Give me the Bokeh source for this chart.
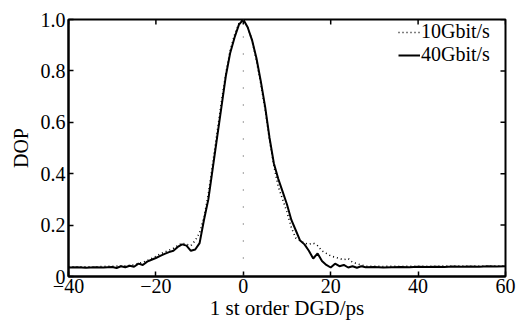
from bokeh.plotting import figure
from bokeh.models import FixedTicker, Legend, LegendItem, Span, Range1d
from bokeh.embed import file_html
from bokeh.resources import INLINE

# ---- data ----
x_40g = [-40, -38, -36, -34, -32, -30, -29, -28, -27, -26, -25, -24, -23, -22, -21,
         -20, -19, -18, -17, -16, -15, -14, -13, -12, -11, -10, -9, -8, -7, -6, -5,
         -4, -3, -2, -1, 0, 1, 2, 3, 4, 5, 6, 7, 8, 9, 10, 11, 12, 13, 14, 15, 16,
         17, 18, 19, 20, 21, 22, 23, 24, 25, 26, 27, 28, 30, 32, 34, 36, 38, 40,
         42, 44, 46, 48, 50, 52, 54, 56, 58, 60]
y_40g = [0.035, 0.036, 0.034, 0.036, 0.035, 0.037, 0.033, 0.040, 0.036, 0.042, 0.038,
         0.050, 0.045, 0.058, 0.065, 0.072, 0.080, 0.088, 0.095, 0.100, 0.115, 0.125,
         0.120, 0.100, 0.105, 0.130, 0.220, 0.300, 0.420, 0.540, 0.660, 0.780, 0.870,
         0.930, 0.980, 1.000, 0.970, 0.920, 0.850, 0.760, 0.660, 0.540, 0.440, 0.380,
         0.330, 0.280, 0.220, 0.180, 0.140, 0.125, 0.100, 0.070, 0.090, 0.060, 0.045,
         0.035, 0.050, 0.040, 0.045, 0.035, 0.040, 0.034, 0.040, 0.036, 0.037, 0.035,
         0.036, 0.037, 0.036, 0.038, 0.037, 0.038, 0.037, 0.039, 0.038, 0.039, 0.038,
         0.040, 0.039, 0.040]

x_10g = [-40, -38, -36, -34, -32, -30, -28, -26, -25, -24, -23, -22, -21, -20, -19,
         -18, -17, -16, -15, -14, -13, -12, -11, -10, -9, -8, -7, -6, -5, -4, -3, -2,
         -1, 0, 1, 2, 3, 4, 5, 6, 7, 8, 9, 10, 11, 12, 13, 14, 15, 16, 17, 18, 19,
         20, 21, 22, 23, 24, 25, 26, 27, 28, 30, 32, 34, 36, 38, 40, 44, 48, 52, 56, 60]
y_10g = [0.038, 0.037, 0.038, 0.037, 0.039, 0.040, 0.041, 0.043, 0.045, 0.050, 0.055,
         0.062, 0.070, 0.078, 0.088, 0.095, 0.102, 0.110, 0.120, 0.130, 0.125, 0.120,
         0.140, 0.170, 0.230, 0.320, 0.440, 0.560, 0.680, 0.790, 0.880, 0.940, 0.985,
         1.000, 0.970, 0.920, 0.840, 0.750, 0.650, 0.530, 0.430, 0.350, 0.300, 0.250,
         0.190, 0.150, 0.140, 0.130, 0.125, 0.130, 0.120, 0.100, 0.090, 0.080, 0.075,
         0.070, 0.065, 0.070, 0.055, 0.050, 0.045, 0.040, 0.040, 0.039, 0.040, 0.039,
         0.040, 0.040, 0.040, 0.041, 0.040, 0.041, 0.041]

x_ticks = [-40, -20, 0, 20, 40, 60]
y_ticks = [0, 0.2, 0.4, 0.6, 0.8, 1.0]
series_names = ["10Gbit/s", "40Gbit/s"]

FONT = "Liberation Serif"
X0, X1, Y0, Y1 = -40, 60, 0, 1.0

p = figure(width=517, height=322, output_backend="svg", toolbar_location=None,
           x_range=Range1d(X0, X1), y_range=Range1d(Y0, Y1),
           min_border_left=68, min_border_right=12, min_border_top=19,
           min_border_bottom=0, background_fill_color="white",
           border_fill_color="white")
p.grid.visible = False
p.outline_line_color = "black"
p.outline_line_width = 2

# sparse dotted reference line at x=0
p.add_layout(Span(location=0, dimension="height", line_color="#444444",
                  line_dash="1 16", line_width=1))

r10 = p.line(x_10g, y_10g, line_color="black", line_width=1.6, line_dash="1 3")
r40 = p.line(x_40g, y_40g, line_color="black", line_width=2)

# mirrored inward ticks on the top and right edges (from the tick lists)
tick_len_y = 5 / 257 * (Y1 - Y0)
tick_len_x = 5 / 437 * (X1 - X0)
p.segment(x0=x_ticks, y0=[Y1] * len(x_ticks), x1=x_ticks,
          y1=[Y1 - tick_len_y] * len(x_ticks), line_color="black", line_width=1.5)
p.segment(x0=[X1] * len(y_ticks), y0=y_ticks, x1=[X1 - tick_len_x] * len(y_ticks),
          y1=y_ticks, line_color="black", line_width=1.5)

for ax in [p.xaxis[0], p.yaxis[0]]:
    ax.axis_line_width = 2
    ax.axis_line_color = "black"
    ax.major_tick_in = 5
    ax.major_tick_out = 0
    ax.minor_tick_in = 0
    ax.minor_tick_out = 0
    ax.major_tick_line_width = 1.5
    ax.major_label_text_font = FONT
    ax.major_label_text_font_size = "20px"
    ax.major_label_text_color = "black"
    ax.axis_label_text_font = FONT
    ax.axis_label_text_font_size = "20px"
    ax.axis_label_text_font_style = "normal"
    ax.axis_label_text_color = "black"

p.xaxis[0].ticker = FixedTicker(ticks=x_ticks)
p.yaxis[0].ticker = FixedTicker(ticks=y_ticks)
p.xaxis[0].axis_label = "1 st order DGD/ps"
p.xaxis[0].axis_label_text_font_size = "21px"
p.yaxis[0].axis_label = "DOP"
p.xaxis[0].major_label_standoff = 2
p.xaxis[0].axis_label_standoff = 0
p.yaxis[0].major_label_standoff = 3
p.yaxis[0].axis_label_standoff = 6
p.yaxis[0].major_label_overrides = {0: "0", 0.2: "0.2", 0.4: "0.4", 0.6: "0.6",
                                    0.8: "0.8", 1.0: "1.0"}

legend = Legend(items=[LegendItem(label=series_names[0], renderers=[r10]),
                       LegendItem(label=series_names[1], renderers=[r40])],
                location=(330, 210), margin=0, padding=1, spacing=0,
                border_line_color=None,
                background_fill_color="white", background_fill_alpha=0.0,
                label_text_font=FONT, label_text_font_size="20px",
                label_text_color="black", glyph_width=22, glyph_height=18,
                label_standoff=1, label_height=18)
p.add_layout(legend, "center")

open("out.html", "w").write(file_html(p, INLINE))
